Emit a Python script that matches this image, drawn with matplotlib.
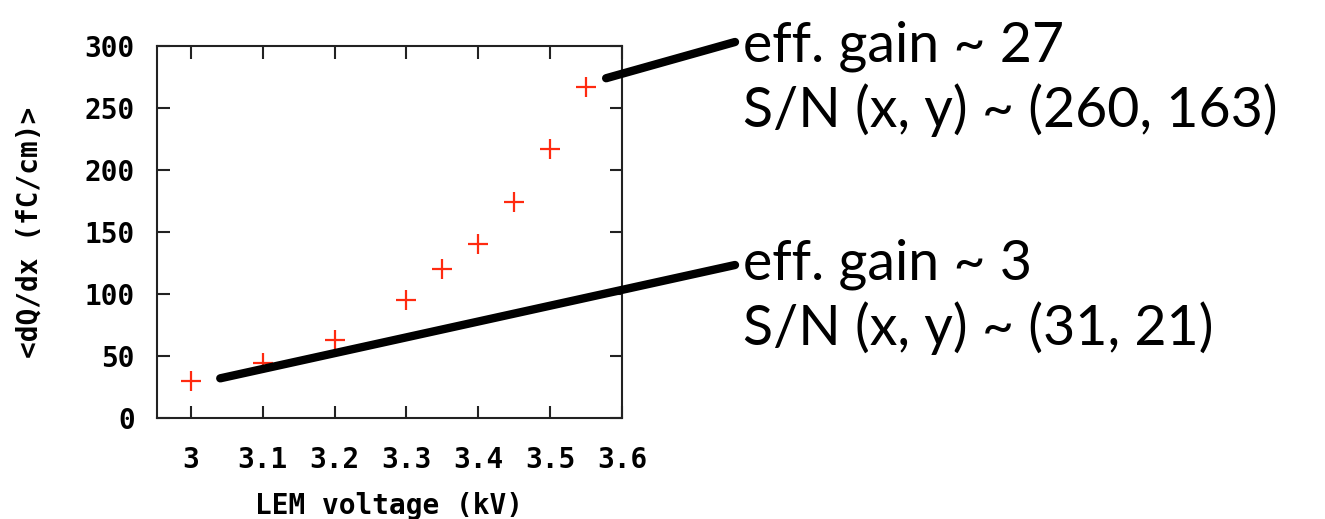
import matplotlib.pyplot as plt

# LEM scan: mean charge per unit length vs LEM voltage
voltage = [3.0, 3.1, 3.2, 3.3, 3.35, 3.4, 3.45, 3.5, 3.55]
dqdx = [30, 44, 63, 95, 120, 140, 174, 217, 267]

xticks = [3.0, 3.1, 3.2, 3.3, 3.4, 3.5, 3.6]
xticklabels = ["3", "3.1", "3.2", "3.3", "3.4", "3.5", "3.6"]
yticks = [0, 50, 100, 150, 200, 250, 300]

high_gain_text = ["eff. gain ~ 27", "S/N (x, y) ~ (260, 163)"]
low_gain_text = ["eff. gain ~ 3", "S/N (x, y) ~ (31, 21)"]

mono = {"family": "DejaVu Sans Mono", "weight": "bold", "size": 20}

fig = plt.figure(figsize=(13.25, 5.19), dpi=100)
ax = fig.add_axes([0.1185, 0.1946, 0.3509, 0.7168])

ax.plot(voltage, dqdx, linestyle="none", marker="+", markersize=14,
        markeredgewidth=1.6, color="#ff2a10")

ax.set_xlim(2.953, 3.6)
ax.set_ylim(0, 300)
ax.set_xticks(xticks)
ax.set_xticklabels(xticklabels, fontdict=mono)
ax.set_yticks(yticks)
ax.set_yticklabels([str(v) for v in yticks], fontdict=mono)

ax.tick_params(direction="in", length=9, width=1.5, color="#222222",
               top=True, right=True)
ax.tick_params(axis="x", pad=20)
ax.tick_params(axis="y", pad=16)
for sp in ax.spines.values():
    sp.set_linewidth(1.5)
    sp.set_color("#222222")

ax.set_xlabel("LEM voltage (kV)", fontdict=mono)
ax.set_ylabel("<dQ/dx (fC/cm)>", fontdict=mono)
ax.xaxis.set_label_coords(0.5, -0.20)
ax.yaxis.set_label_coords(-0.245, 0.5)

# connector lines from the data to the notes on the right
ax.annotate("", xy=(3.578, 274), xycoords="data",
            xytext=(735, 477), textcoords="figure pixels",
            arrowprops=dict(arrowstyle="-", lw=6, color="black",
                            shrinkA=0, shrinkB=0))
ax.annotate("", xy=(3.041, 32), xycoords="data",
            xytext=(735, 254), textcoords="figure pixels",
            arrowprops=dict(arrowstyle="-", lw=6, color="black",
                            shrinkA=0, shrinkB=0))

for lines, base in ((high_gain_text, 457), (low_gain_text, 239)):
    for i, line in enumerate(lines):
        fig.text(743 / 1325, (base - i * 65) / 519, line,
                 family="Lato", size=40, color="black", va="baseline")

fig.savefig("out.png", dpi=100)
